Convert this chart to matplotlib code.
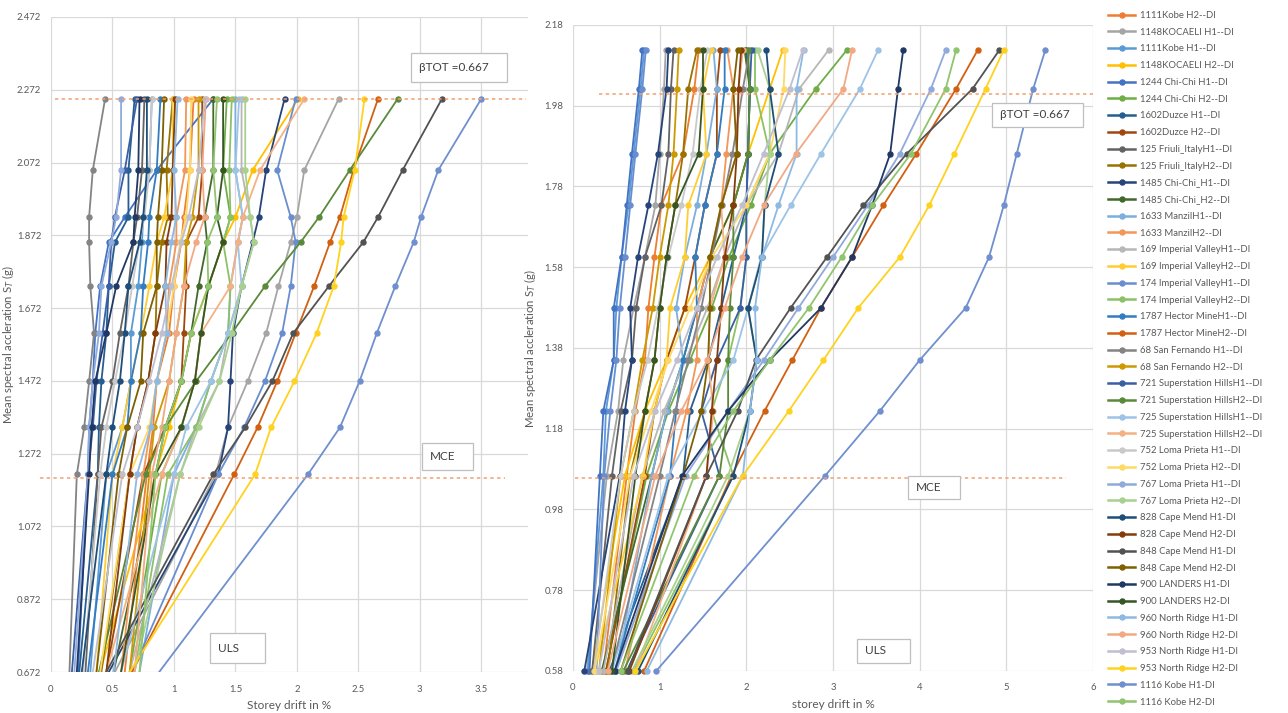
import matplotlib
matplotlib.use('Agg')
import matplotlib.pyplot as plt
from matplotlib.patches import Rectangle
from matplotlib.lines import Line2D

plt.rcParams['font.family'] = ['Lato', 'DejaVu Sans']

W, H = 1288, 713

names = [
    '1111Kobe H2--DI', '1148KOCAELI H1--DI', '1111Kobe H1--DI', '1148KOCAELI H2--DI',
    '1244 Chi-Chi H1--DI', '1244 Chi-Chi H2--DI', '1602Duzce H1--DI', '1602Duzce H2--DI',
    '125 Friuli_ItalyH1--DI', '125 Friuli_ItalyH2--DI', '1485 Chi-Chi_H1--DI', '1485 Chi-Chi_H2--DI',
    '1633 ManzilH1--DI', '1633 ManzilH2--DI', '169 Imperial ValleyH1--DI', '169 Imperial ValleyH2--DI',
    '174 Imperial ValleyH1--DI', '174 Imperial ValleyH2--DI', '1787 Hector MineH1--DI', '1787 Hector MineH2--DI',
    '68 San Fernando H1--DI', '68 San Fernando H2--DI', '721 Superstation HillsH1--DI', '721 Superstation HillsH2--DI',
    '725 Superstation HillsH1--DI', '725 Superstation HillsH2--DI', '752 Loma Prieta H1--DI', '752 Loma Prieta H2--DI',
    '767 Loma Prieta H1--DI', '767 Loma Prieta H2--DI', '828 Cape Mend H1-DI', '828 Cape Mend H2-DI',
    '848 Cape Mend H1-DI', '848 Cape Mend H2-DI', '900 LANDERS H1-DI', '900 LANDERS H2-DI',
    '960 North Ridge H1-DI', '960 North Ridge H2-DI', '953 North Ridge H1-DI', '953 North Ridge H2-DI',
    '1116 Kobe H1-DI', '1116 Kobe H2-DI',
]

colors = [
    '#ED7D31', '#A5A5A5', '#5B9BD5', '#FFC000', '#4472C4', '#70AD47',
    '#255E91', '#9E480E', '#636363', '#997300', '#264478', '#43682B',
    '#7CAFDD', '#F1975A', '#B7B7B7', '#FFCD33', '#698ED0', '#8CC168',
    '#327DC2', '#D26012', '#848484', '#CC9A00', '#3A5FA4', '#5A8A39',
    '#9DC3E6', '#F4B183', '#C9C9C9', '#FFD966', '#8FAADC', '#A9D18E',
    '#1F4E79', '#843C0C', '#525252', '#7F6000', '#203864', '#375623',
    '#8DB9E3', '#F2A983', '#BFBFD0', '#FFD21F', '#6F8FCF', '#90C46E',
]

# spectral acceleration levels (bottom -> top)
left_sa = [0.672, 1.215, 1.344, 1.471, 1.603, 1.732, 1.853, 1.922, 2.051, 2.247]
right_sa = [0.58, 1.064, 1.224, 1.350, 1.479, 1.605, 1.733, 1.861, 2.022, 2.118]

# storey drift (%) per record, same order as names
left_drift = [
    [0.60, 0.78, 0.83, 0.86, 0.96, 1.00, 1.06, 1.08, 1.13, 1.16],
    [0.52, 1.34, 1.44, 1.60, 1.75, 1.85, 1.95, 2.00, 2.06, 2.34],
    [0.32, 0.45, 0.58, 0.65, 0.65, 0.71, 0.74, 0.75, 0.80, 0.82],
    [0.40, 0.85, 0.96, 1.06, 1.14, 1.28, 1.40, 1.50, 1.64, 2.01],
    [0.22, 0.30, 0.31, 0.34, 0.36, 0.40, 0.47, 0.60, 0.86, 1.32],
    [0.64, 0.90, 1.06, 1.17, 1.22, 1.28, 1.40, 1.46, 1.40, 1.43],
    [0.23, 0.38, 0.39, 0.41, 0.45, 0.47, 0.52, 0.63, 0.63, 0.68],
    [0.45, 0.75, 0.93, 1.06, 1.08, 1.10, 1.10, 1.20, 1.23, 1.23],
    [0.28, 0.38, 0.41, 0.50, 0.56, 0.63, 0.67, 0.70, 0.74, 0.76],
    [0.41, 0.64, 0.70, 0.79, 0.85, 0.86, 0.90, 0.95, 0.94, 0.99],
    [0.47, 1.36, 1.44, 1.46, 1.48, 1.55, 1.64, 1.69, 1.75, 1.90],
    [0.51, 0.85, 0.93, 1.06, 1.14, 1.20, 1.27, 1.25, 1.32, 1.32],
    [0.72, 1.00, 1.18, 1.30, 1.44, 1.46, 1.52, 1.56, 1.50, 1.50],
    [0.57, 0.75, 0.81, 0.86, 0.94, 0.96, 1.02, 1.02, 1.09, 1.10],
    [0.64, 1.05, 1.18, 1.37, 1.44, 1.55, 1.65, 1.62, 1.55, 1.55],
    [0.37, 0.50, 0.58, 0.65, 0.73, 0.80, 0.86, 0.92, 0.99, 0.99],
    [0.66, 1.36, 1.57, 1.74, 1.88, 1.95, 1.99, 1.95, 1.84, 1.99],
    [0.68, 0.95, 1.18, 1.30, 1.44, 1.46, 1.40, 1.46, 1.45, 1.47],
    [0.30, 0.50, 0.62, 0.65, 0.73, 0.75, 0.79, 0.80, 0.86, 0.89],
    [0.66, 1.49, 1.68, 1.84, 1.99, 2.14, 2.27, 2.35, 2.46, 2.66],
    [0.15, 0.21, 0.27, 0.31, 0.35, 0.32, 0.31, 0.31, 0.34, 0.44],
    [0.64, 0.80, 0.84, 0.96, 1.02, 1.08, 1.10, 1.15, 1.20, 1.20],
    [0.17, 0.30, 0.34, 0.37, 0.42, 0.47, 0.49, 0.52, 0.60, 0.70],
    [0.39, 0.77, 0.93, 1.18, 1.47, 1.74, 2.03, 2.18, 2.43, 2.82],
    [0.57, 1.00, 1.10, 1.30, 1.44, 1.55, 1.52, 1.56, 1.50, 1.53],
    [0.45, 0.90, 1.06, 1.17, 1.22, 1.46, 1.52, 1.56, 1.70, 2.06],
    [0.26, 0.40, 0.45, 0.52, 0.60, 0.66, 0.72, 0.76, 0.80, 0.82],
    [0.40, 0.64, 0.80, 0.86, 0.94, 1.00, 1.05, 1.10, 1.13, 1.14],
    [0.19, 0.30, 0.31, 0.34, 0.39, 0.41, 0.49, 0.53, 0.57, 0.57],
    [0.68, 1.05, 1.20, 1.37, 1.47, 1.55, 1.65, 1.62, 1.58, 1.58],
    [0.25, 0.45, 0.50, 0.56, 0.60, 0.63, 0.72, 0.75, 0.78, 0.78],
    [0.45, 0.64, 0.70, 0.79, 0.85, 0.93, 0.94, 0.98, 0.99, 1.01],
    [0.45, 1.32, 1.58, 1.80, 1.97, 2.26, 2.54, 2.66, 2.86, 3.18],
    [0.37, 0.55, 0.62, 0.73, 0.75, 0.86, 0.86, 0.87, 0.90, 0.92],
    [0.21, 0.31, 0.33, 0.36, 0.45, 0.53, 0.67, 0.68, 0.71, 0.72],
    [0.57, 0.85, 1.06, 1.17, 1.22, 1.28, 1.40, 1.35, 1.40, 1.40],
    [0.51, 0.70, 0.81, 0.86, 0.94, 0.93, 0.98, 1.02, 1.00, 1.03],
    [0.68, 0.82, 0.90, 0.96, 1.02, 1.08, 1.18, 1.25, 1.23, 1.26],
    [0.34, 0.58, 0.70, 0.80, 0.90, 0.98, 1.06, 1.12, 1.20, 1.25],
    [0.64, 1.66, 1.79, 1.98, 2.16, 2.30, 2.36, 2.38, 2.47, 2.55],
    [0.88, 2.09, 2.35, 2.51, 2.65, 2.80, 2.95, 3.01, 3.15, 3.50],
    [0.72, 0.85, 0.93, 1.06, 1.14, 1.28, 1.27, 1.35, 1.32, 1.35],
]

right_drift = [
    [0.35, 0.62, 0.72, 0.83, 0.87, 0.94, 1.02, 1.27, 1.40, 1.45],
    [0.16, 0.39, 0.52, 0.58, 0.70, 0.83, 0.95, 1.00, 1.05, 1.07],
    [0.17, 0.35, 0.38, 0.47, 0.50, 0.56, 0.64, 0.70, 0.78, 0.82],
    [0.22, 0.60, 0.83, 1.08, 1.29, 1.58, 1.85, 2.02, 2.27, 2.42],
    [0.19, 0.31, 0.35, 0.47, 0.47, 0.56, 0.62, 0.68, 0.76, 0.80],
    [0.38, 0.85, 1.10, 1.35, 1.60, 1.80, 2.05, 2.27, 2.80, 3.16],
    [0.42, 1.27, 1.35, 1.56, 1.71, 1.85, 2.00, 2.02, 2.04, 2.00],
    [0.38, 0.83, 0.94, 1.08, 1.29, 1.41, 1.52, 1.66, 1.66, 1.70],
    [0.22, 0.45, 0.55, 0.68, 0.73, 0.83, 1.02, 1.10, 1.13, 1.16],
    [0.40, 0.66, 0.83, 0.94, 1.00, 1.08, 1.18, 1.27, 1.33, 1.43],
    [0.13, 0.54, 0.60, 0.68, 0.66, 0.75, 0.87, 0.98, 1.08, 1.10],
    [0.33, 0.91, 1.08, 1.27, 1.43, 1.58, 1.85, 2.02, 2.04, 1.98],
    [0.50, 0.91, 1.08, 1.27, 1.19, 1.29, 1.43, 1.54, 1.66, 1.62],
    [0.60, 1.12, 1.31, 1.43, 1.43, 1.58, 1.71, 1.77, 1.85, 1.78],
    [0.35, 0.80, 1.05, 1.30, 1.55, 1.75, 2.00, 2.37, 2.61, 2.95],
    [0.25, 0.81, 0.94, 1.08, 1.12, 1.29, 1.33, 1.54, 1.50, 1.59],
    [0.27, 0.36, 0.43, 0.50, 0.54, 0.60, 0.66, 0.72, 0.80, 0.84],
    [0.70, 1.85, 1.60, 1.79, 1.93, 2.00, 2.00, 2.27, 2.10, 2.10],
    [0.48, 1.12, 1.19, 1.27, 1.43, 1.41, 1.52, 1.66, 1.75, 1.75],
    [0.82, 1.83, 2.21, 2.53, 2.86, 3.22, 3.58, 3.96, 4.42, 4.67],
    [0.44, 1.00, 1.18, 1.33, 1.48, 1.60, 1.72, 1.84, 1.96, 2.04],
    [0.30, 0.55, 0.70, 0.80, 0.92, 1.00, 1.10, 1.16, 1.20, 1.22],
    [0.62, 1.69, 1.48, 1.66, 1.93, 2.00, 2.00, 2.02, 2.04, 2.06],
    [0.58, 1.69, 1.79, 1.79, 1.81, 1.85, 1.85, 2.02, 2.04, 2.02],
    [0.45, 1.10, 1.50, 1.85, 2.02, 2.17, 2.51, 2.86, 3.31, 3.52],
    [0.72, 1.54, 1.62, 1.56, 1.58, 1.75, 1.71, 1.89, 1.91, 1.96],
    [0.24, 0.55, 0.70, 0.86, 0.98, 1.10, 1.25, 1.38, 1.47, 1.55],
    [0.25, 0.66, 0.90, 1.10, 1.35, 1.60, 2.00, 2.27, 2.43, 2.45],
    [0.50, 1.30, 1.79, 2.20, 2.60, 3.00, 3.40, 3.77, 4.13, 4.30],
    [0.68, 1.79, 2.04, 2.12, 2.02, 2.18, 2.21, 2.27, 2.27, 2.13],
    [0.75, 1.85, 2.04, 2.12, 2.02, 2.18, 2.21, 2.37, 2.27, 2.23],
    [0.65, 1.54, 1.60, 1.66, 1.71, 1.75, 1.85, 1.89, 1.91, 1.94],
    [0.63, 1.54, 1.90, 2.11, 2.51, 2.93, 3.35, 3.85, 4.61, 4.92],
    [0.55, 1.27, 1.48, 1.56, 1.58, 1.58, 1.71, 1.89, 1.85, 1.90],
    [0.48, 1.26, 1.79, 2.27, 2.86, 3.22, 3.45, 3.66, 3.75, 3.81],
    [0.45, 0.72, 0.83, 0.94, 1.00, 1.08, 1.18, 1.45, 1.50, 1.50],
    [0.85, 1.96, 2.04, 2.12, 2.10, 2.18, 2.37, 2.58, 2.58, 2.66],
    [0.40, 0.95, 1.25, 1.55, 1.75, 1.95, 2.20, 2.57, 3.12, 3.22],
    [0.30, 0.70, 0.95, 1.20, 1.43, 1.66, 1.95, 2.20, 2.50, 2.65],
    [0.72, 1.96, 2.49, 2.89, 3.29, 3.77, 4.11, 4.40, 4.76, 4.97],
    [0.96, 2.91, 3.54, 4.00, 4.53, 4.80, 4.97, 5.12, 5.31, 5.45],
    [0.55, 1.40, 1.85, 2.27, 2.72, 3.10, 3.45, 3.90, 4.30, 4.42],
]

left_yticks = [0.672, 0.872, 1.072, 1.272, 1.472, 1.672, 1.872, 2.072, 2.272, 2.472]
left_xticks = [0, 0.5, 1, 1.5, 2, 2.5, 3, 3.5]
left_xlabels = ['0', '0.5', '1', '1.5', '2', '2.5', '3', '3.5']
right_yticks = [0.58, 0.78, 0.98, 1.18, 1.38, 1.58, 1.78, 1.98, 2.18]
right_xticks = [0, 1, 2, 3, 4, 5, 6]

beta_text = 'βTOT =0.667'
left_limits = [2.2465, 1.204]
right_limits = [2.01, 1.059]

TXT = '#595959'
fig = plt.figure(figsize=(W / 100, H / 100), dpi=100)


def px_axes(x0, y0, x1, y1):
    return fig.add_axes([x0 / W, 1 - y1 / H, (x1 - x0) / W, (y1 - y0) / H])


def style(ax, xticks, yticks, ylabels, xlabels):
    ax.set_xticks(xticks)
    ax.set_xticklabels(xlabels)
    ax.set_yticks(yticks)
    ax.set_yticklabels(ylabels)
    ax.grid(True, color='#d9d9d9', lw=0.9)
    ax.set_axisbelow(True)
    for s in ax.spines.values():
        s.set_visible(False)
    ax.tick_params(length=0, labelsize=6.8, colors=TXT)
    ax.tick_params(axis='y', pad=7)
    ax.tick_params(axis='x', pad=9)


def box(x0, y0, x1, y1, label, size=8.5):
    fig.add_artist(Rectangle((x0 / W, 1 - y1 / H), (x1 - x0) / W, (y1 - y0) / H,
                             facecolor='white', edgecolor='#bfbfbf', lw=0.9,
                             transform=fig.transFigure, zorder=5))
    fig.text((x0 + 8) / W, 1 - (y0 + y1) / 2 / H, label, fontsize=size,
             color='#404040', va='center', ha='left', zorder=6)


# left chart
ax1 = px_axes(51, 17, 528, 672)
ax1.set_xlim(0, 3.88)
ax1.set_ylim(0.672, 2.472)
for i in range(len(names)):
    ax1.plot(left_drift[i], left_sa, color=colors[i], lw=1.3, marker='o', ms=3.6,
             markevery=list(range(1, len(left_sa))))
style(ax1, left_xticks, left_yticks, ['%.3f' % v for v in left_yticks], left_xlabels)
ax1.plot([0.03, 3.86], [left_limits[0]] * 2, color='#F0A070', lw=1.1, ls=(0, (2.2, 2.2)),
         clip_on=False)
ax1.plot([-0.09, 3.69], [left_limits[1]] * 2, color='#F0A070', lw=1.1, ls=(0, (2.2, 2.2)),
         clip_on=False)
ax1.set_xlabel('Storey drift in %', fontsize=8.5, color=TXT)
ax1.xaxis.set_label_coords(0.5, -0.042)
ax1.set_ylabel('Mean spectral accleration S$_T$ (g)', fontsize=8.2, color=TXT)
ax1.yaxis.set_label_coords(-0.074, 0.5)

# right chart
ax2 = px_axes(573, 25, 1093, 671)
ax2.set_xlim(0, 6)
ax2.set_ylim(0.58, 2.18)
for i in range(len(names)):
    ax2.plot(right_drift[i], right_sa, color=colors[i], lw=1.3, marker='o', ms=3.6,
             clip_on=False)
style(ax2, right_xticks, right_yticks, ['%.2f' % v for v in right_yticks],
      [str(v) for v in right_xticks])
ax2.plot([0.30, 6.0], [right_limits[0]] * 2, color='#F0A070', lw=1.1, ls=(0, (2.2, 2.2)),
         clip_on=False)
ax2.plot([0.02, 5.69], [right_limits[1]] * 2, color='#F0A070', lw=1.1, ls=(0, (2.2, 2.2)),
         clip_on=False)
ax2.set_xlabel('storey drift in %', fontsize=8.5, color=TXT)
ax2.xaxis.set_label_coords(0.5, -0.043)
ax2.set_ylabel('Mean spectral accleration S$_T$ (g)', fontsize=8.2, color=TXT)
ax2.yaxis.set_label_coords(-0.068, 0.5)

# annotation boxes
box(411, 53, 507, 82, beta_text)
box(422, 443, 473, 470, 'MCE')
box(210, 633, 265, 663, 'ULS')
box(992, 103, 1083, 127, beta_text)
box(908, 476, 960, 499, 'MCE')
box(857, 639, 910, 663, 'ULS')

handles = [Line2D([], [], color=c, lw=1.8, marker='o', ms=3.6) for c in colors]
fig.legend(handles, names, loc='upper left', bbox_to_anchor=(1108 / W, 1 - 11 / H),
           frameon=False, fontsize=6.8, labelcolor=TXT, labelspacing=0.82,
           handlelength=2.9, handletextpad=0.5, borderpad=0, borderaxespad=0)

fig.savefig('out.png', dpi=100, facecolor='white')
